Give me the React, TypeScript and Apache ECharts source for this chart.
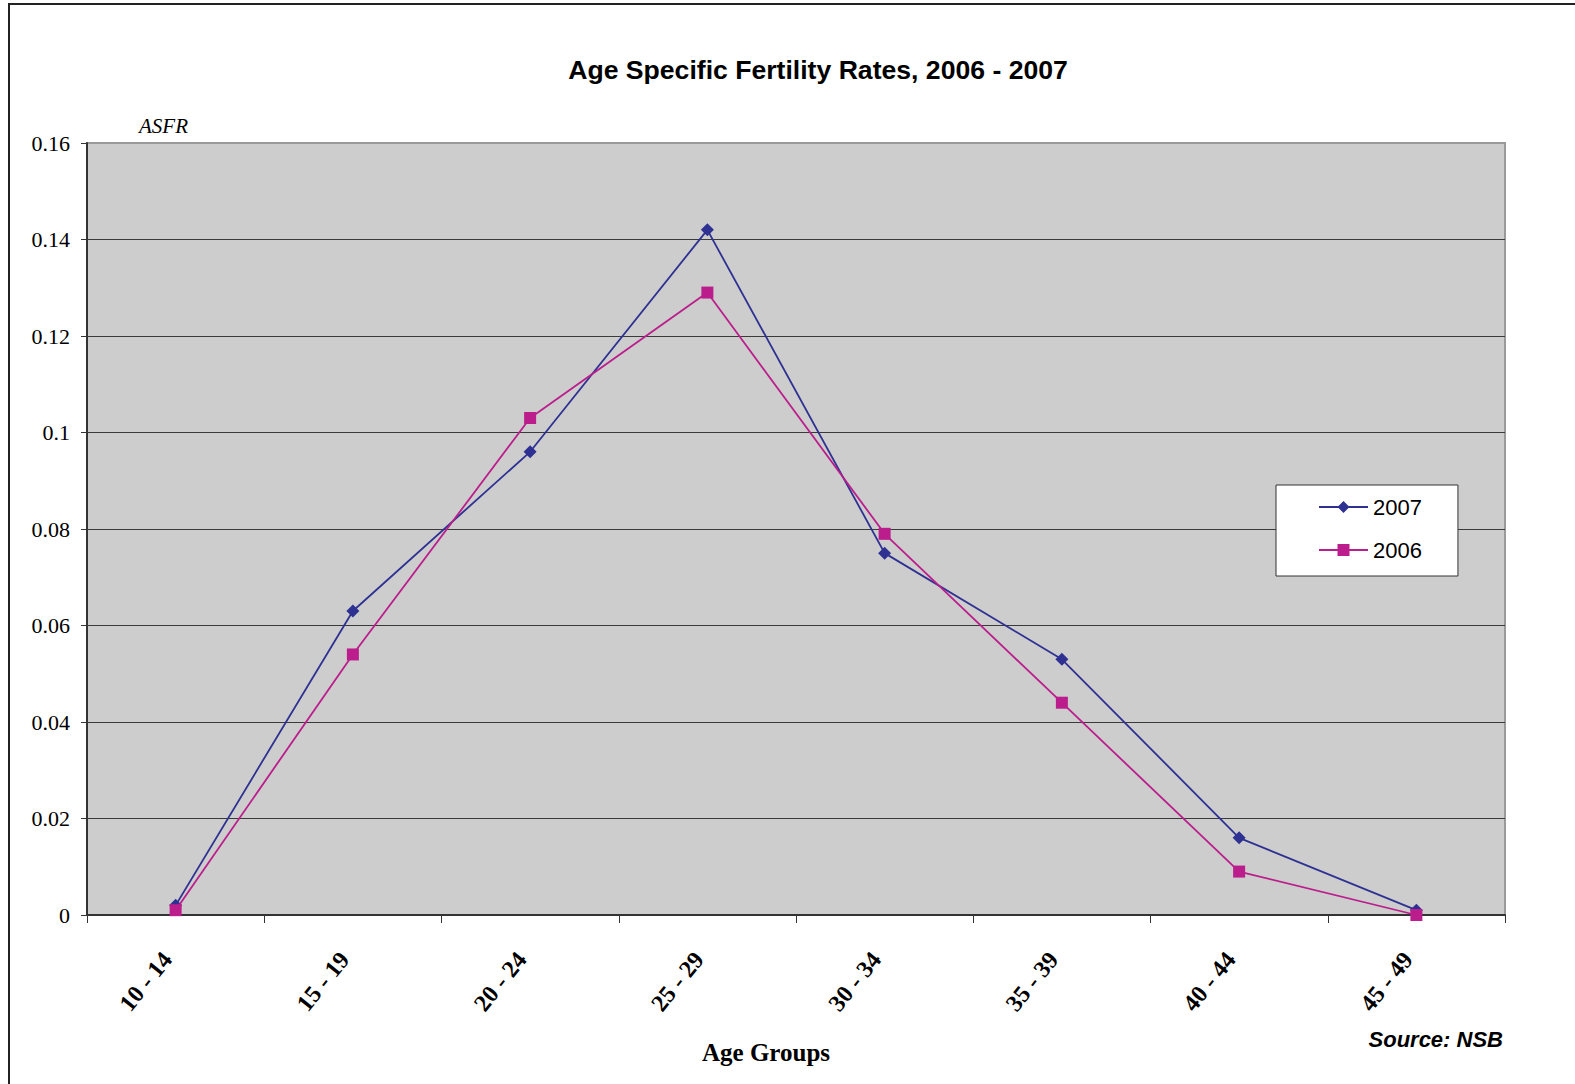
import React, { useEffect, useRef } from "react";
import * as echarts from "echarts";

const categories = ["10 - 14", "15 - 19", "20 - 24", "25 - 29", "30 - 34", "35 - 39", "40 - 44", "45 - 49"];
const values2007 = [0.002, 0.063, 0.096, 0.142, 0.075, 0.053, 0.016, 0.001];
const values2006 = [0.001, 0.054, 0.103, 0.129, 0.079, 0.044, 0.009, 0.0];
const seriesNames = ["2007", "2006"];
const titleText = "Age Specific Fertility Rates, 2006 - 2007";
const yAxisTitle = "ASFR";
const xAxisTitle = "Age Groups";
const sourceText = "Source: NSB";

const SERIF = "'Liberation Serif', 'Times New Roman', serif";
const SANS = "'Liberation Sans', Arial, sans-serif";

export default function App() {
  const ref = useRef<HTMLDivElement>(null);
  useEffect(() => {
    if (!ref.current) return;
    const chart = echarts.init(ref.current, null, { renderer: "svg" });
    chart.setOption({
      animation: false,
      backgroundColor: "#ffffff",
      grid: {
        left: 87,
        top: 143,
        right: 70,
        bottom: 169,
        show: true,
        backgroundColor: "#CDCDCD",
        borderColor: "#9A9A9A",
        borderWidth: 2,
      },
      legend: {
        data: seriesNames,
        orient: "vertical",
        left: 1276,
        top: 485,
        padding: [11, 36, 15, 42],
        itemWidth: 49,
        itemHeight: 15,
        itemGap: 21,
        backgroundColor: "#ffffff",
        borderColor: "#333333",
        borderWidth: 1,
        textStyle: { fontFamily: SANS, fontSize: 22, color: "#000", lineHeight: 22 },
      },
      xAxis: {
        type: "category",
        data: categories,
        boundaryGap: true,
        axisLine: { show: true, lineStyle: { color: "#333", width: 2 } },
        axisTick: { show: true, length: 8, lineStyle: { color: "#333", width: 1 } },
        axisLabel: {
          rotate: 51,
          margin: 47,
          verticalAlign: "bottom",
          fontFamily: SERIF,
          fontWeight: "bold",
          fontSize: 24,
          color: "#000",
          lineHeight: 22,
        },
        splitLine: { show: false },
      },
      yAxis: {
        type: "value",
        min: 0,
        max: 0.16,
        interval: 0.02,
        axisLine: { show: true, lineStyle: { color: "#333", width: 2 } },
        axisTick: { show: true, length: 6, lineStyle: { color: "#333", width: 1 } },
        axisLabel: {
          margin: 17,
          fontFamily: SERIF,
          fontSize: 22,
          color: "#000",
          formatter: (v: number) => String(+v.toFixed(2)),
        },
        splitLine: {
          show: true,
          showMinLine: false,
          showMaxLine: false,
          lineStyle: { color: "#3A3A3A", width: 1 },
        },
      },
      series: [
        {
          name: seriesNames[0],
          type: "line",
          data: values2007,
          symbol: "diamond",
          symbolSize: 13,
          itemStyle: { color: "#2E3192" },
          lineStyle: { color: "#2E3192", width: 1.8 },
          z: 3,
        },
        {
          name: seriesNames[1],
          type: "line",
          data: values2006,
          symbol: "rect",
          symbolSize: 12,
          itemStyle: { color: "#BB1E8C" },
          lineStyle: { color: "#BB1E8C", width: 1.8 },
          z: 4,
        },
      ],
      graphic: [
        {
          type: "rect",
          shape: { x: 9, y: 4, width: 1700, height: 1300 },
          style: { fill: "none", stroke: "#222", lineWidth: 2 },
          silent: true,
          z: 10,
        },
        {
          type: "text",
          x: 818,
          y: 70,
          style: {
            text: titleText,
            fontFamily: SANS,
            fontWeight: "bold",
            fontSize: 26.6,
            fill: "#000",
            textAlign: "center",
            textVerticalAlign: "middle",
          },
        },
        {
          type: "text",
          x: 139,
          y: 126,
          style: {
            text: yAxisTitle,
            fontFamily: SERIF,
            fontStyle: "italic",
            fontSize: 21,
            fill: "#000",
            textAlign: "left",
            textVerticalAlign: "middle",
          },
        },
        {
          type: "text",
          x: 766,
          y: 1052,
          style: {
            text: xAxisTitle,
            fontFamily: SERIF,
            fontWeight: "bold",
            fontSize: 25,
            fill: "#000",
            textAlign: "center",
            textVerticalAlign: "middle",
          },
        },
        {
          type: "text",
          x: 1503,
          y: 1039,
          style: {
            text: sourceText,
            fontFamily: SANS,
            fontWeight: "bold",
            fontStyle: "italic",
            fontSize: 22,
            fill: "#000",
            textAlign: "right",
            textVerticalAlign: "middle",
          },
        },
      ],
    });
    return () => chart.dispose();
  }, []);
  return (
    <div
      ref={ref}
      style={{ position: "absolute", left: 0, top: 0, width: 1575, height: 1084 }}
    />
  );
}
